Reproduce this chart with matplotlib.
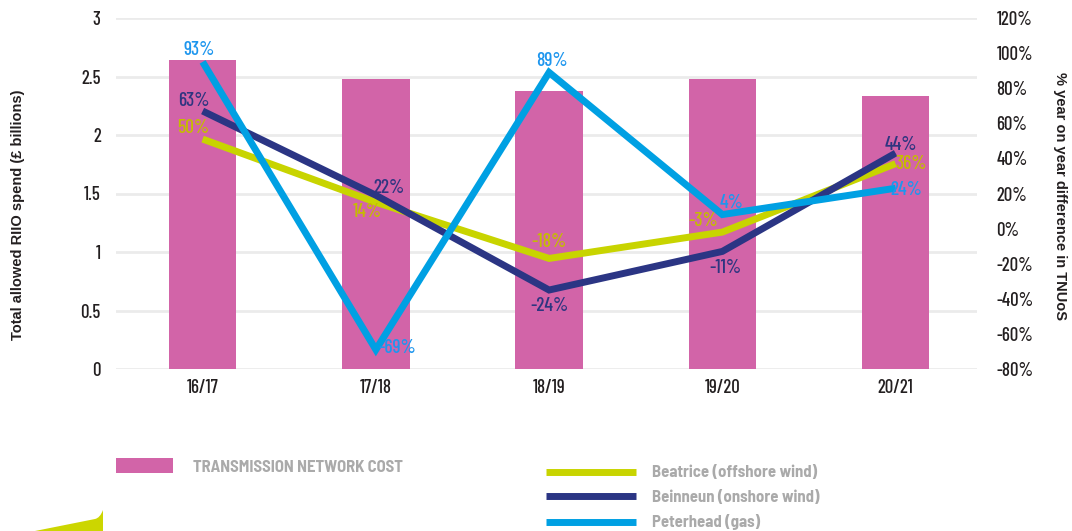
import matplotlib
matplotlib.use("Agg")
import matplotlib.pyplot as plt
from matplotlib.path import Path
from matplotlib.patches import PathPatch

# data
years = ["16/17", "17/18", "18/19", "19/20", "20/21"]
network_cost = [2.64, 2.48, 2.38, 2.48, 2.33]          # £ billions (left axis)

beatrice = [51, 15, -17, -2, 37]                        # % (right axis), as drawn
beinneun = [67, 19, -35, -13, 43]
peterhead = [95, -69, 89, 8, 23]

beatrice_labels = ["50%", "14%", "-18%", "-3%", "36%"]
beinneun_labels = ["63%", "22%", "-24%", "-11%", "44%"]
peterhead_labels = ["93%", "-69%", "89%", "4%", "24%"]

series_names = ["Beatrice (offshore wind)", "Beinneun (onshore wind)", "Peterhead (gas)"]
bar_name = "TRANSMISSION NETWORK COST"

PINK = "#D264A8"
LIME = "#C8D400"
NAVY = "#2B3584"
CYAN = "#00A0E3"
GRID = "#EBEBEB"
GREY = "#AAAAAA"
INK = "#231F20"

cond = ["Barlow Condensed", "DejaVu Sans"]
semi = ["Barlow Semi Condensed", "DejaVu Sans"]
plt.rcParams["font.family"] = ["Liberation Sans", "DejaVu Sans"]

fig = plt.figure(figsize=(10.72, 5.31), dpi=100)
ax = fig.add_axes([116 / 1072, 1 - 369 / 531, (977 - 116) / 1072, (369 - 18) / 531])
ax2 = ax.twinx()

x = list(range(len(years)))
bars = ax.bar(x, network_cost, width=0.39, color=PINK, zorder=2)
ax.set_ylim(0, 3)
ax.set_xlim(-0.5, 4.47)
ax.set_yticks([0, 0.5, 1, 1.5, 2, 2.5, 3])
ax.set_yticklabels(["0", "0.5", "1", "1.5", "2", "2.5", "3"])
ax.set_xticks(x)
ax.set_xticklabels(years)
ax.grid(axis="y", color=GRID, linewidth=2, zorder=0)
ax.set_axisbelow(True)

ax2.set_ylim(-80, 120)
ax2.set_yticks(range(-80, 121, 20))
ax2.set_yticklabels([f"{v}%" for v in range(-80, 121, 20)])

for a in (ax, ax2):
    for s in a.spines.values():
        s.set_visible(False)
    a.tick_params(length=0, labelsize=13.5, colors=INK)
    for lab in a.get_xticklabels() + a.get_yticklabels():
        lab.set_family(cond)
        lab.set_weight("medium")
ax.tick_params(axis="y", pad=11)
ax.tick_params(axis="x", pad=7)
ax2.tick_params(axis="y", pad=14)

ax.set_ylabel("Total allowed RIIO spend (£ billions)", fontsize=10.5, fontweight="bold",
              color=INK, va="center")
ax.yaxis.set_label_coords(-0.114, 0.44)
ax2.set_ylabel("% year on year difference in TNUoS", fontsize=10.5, fontweight="bold",
               color=INK, rotation=270, va="center")
ax2.yaxis.set_label_coords(1.096, 0.493)

lines = []
for vals, col, name in [(beatrice, LIME, series_names[0]),
                        (beinneun, NAVY, series_names[1]),
                        (peterhead, CYAN, series_names[2])]:
    ln, = ax2.plot(x, vals, color=col, linewidth=5, solid_joinstyle="miter",
                   solid_capstyle="butt", label=name)
    lines.append(ln)

# data labels, offsets in pixels
label_sets = [
    (beatrice, beatrice_labels, "#C5BC00",
     [(-9, 11), (-9, -10), (0, 16), (-19, 11), (16, 0)]),
    (beinneun, beinneun_labels, "#2E3580",
     [(-9, 10), (13, 7), (0, -16), (3, -17), (5, 8)]),
    (peterhead, peterhead_labels, "#1E96EE",
     [(-3, 12), (21, 2), (3, 11), (9, 12), (11, -2)]),
]
for vals, texts, col, offs in label_sets:
    for i, (v, t, o) in enumerate(zip(vals, texts, offs)):
        ax2.annotate(t, (i, v), xytext=o, textcoords="offset pixels",
                     ha="center", va="center", fontsize=14, fontweight="medium",
                     color=col, family=cond)

leg1 = fig.legend([bars], [bar_name], loc="upper left",
                  bbox_to_anchor=(108 / 1072, 1 - 450 / 531), frameon=False,
                  borderpad=0, handlelength=3.4, handleheight=1.0, handletextpad=1.2,
                  prop={"family": semi, "weight": "bold", "size": 12})
for t in leg1.get_texts():
    t.set_color(GREY)

leg2 = fig.legend(lines, series_names, loc="upper left",
                  bbox_to_anchor=(538 / 1072, 1 - 457 / 531), frameon=False,
                  borderpad=0, handlelength=5.4, handletextpad=0.96, labelspacing=0.57,
                  prop={"family": semi, "weight": "bold", "size": 12})
for t in leg2.get_texts():
    t.set_color(GREY)
for h in leg2.legend_handles:
    h.set_linewidth(5)
    h.set_solid_capstyle("butt")

# decorative swoosh at bottom left
W, H = 1072, 531
verts = [(35 / W, 0), (95 / W, 12 / H), (100 / W, 13 / H), (103 / W, 21 / H),
         (103 / W, 0), (35 / W, 0)]
codes = [Path.MOVETO, Path.LINETO, Path.CURVE3, Path.CURVE3, Path.LINETO, Path.CLOSEPOLY]
fig.patches.append(PathPatch(Path(verts, codes), transform=fig.transFigure,
                             facecolor="#CCD600", edgecolor="none"))

fig.savefig("out.png", dpi=100)
